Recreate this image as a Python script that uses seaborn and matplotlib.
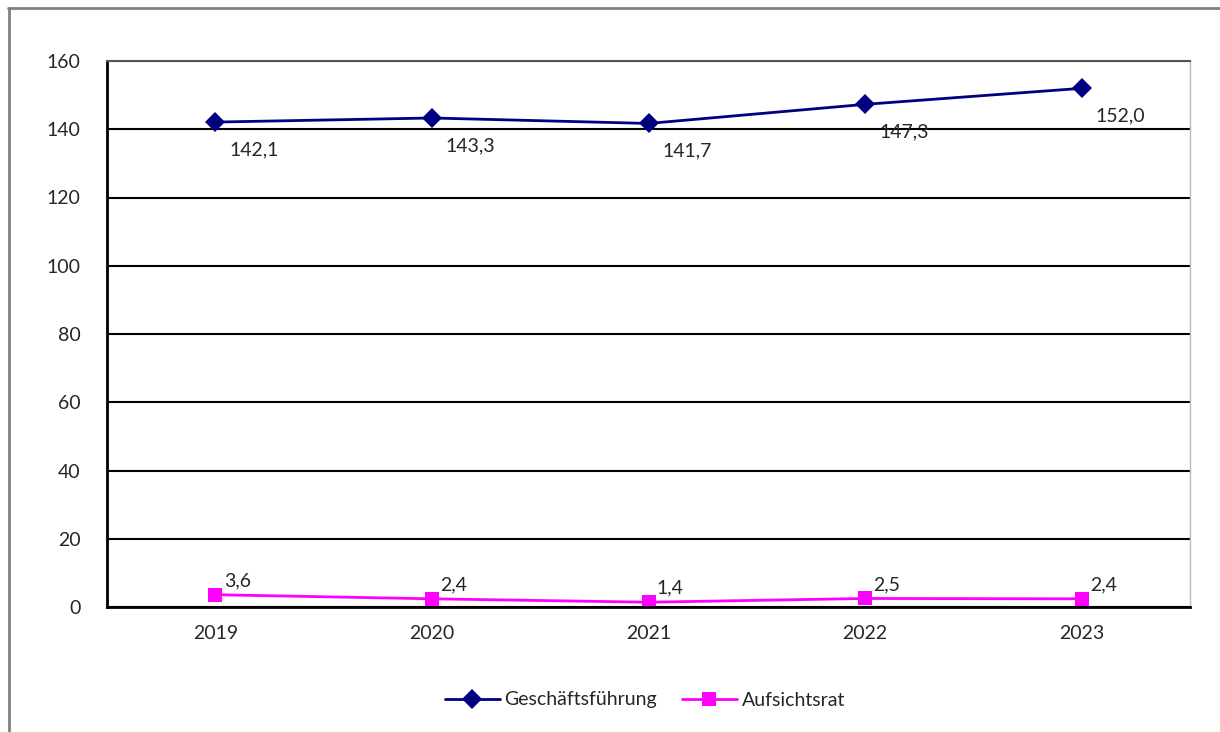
import pandas as pd
import matplotlib.pyplot as plt
import seaborn as sns
from matplotlib.lines import Line2D

years = ["2019", "2020", "2021", "2022", "2023"]
geschaeftsfuehrung = [142.1, 143.3, 141.7, 147.3, 152.0]
aufsichtsrat = [3.6, 2.4, 1.4, 2.5, 2.4]
series_names = ["Geschäftsführung", "Aufsichtsrat"]
colors = ["#000080", "#FF00FF"]

df = pd.DataFrame({
    "Jahr": years * 2,
    "pos": list(range(len(years))) * 2,
    "Wert": geschaeftsfuehrung + aufsichtsrat,
    "Serie": [series_names[0]] * len(years) + [series_names[1]] * len(years),
})

sns.set_style("white")
plt.rcParams["font.family"] = ["Lato", "DejaVu Sans"]
FS = 14

fig = plt.figure(figsize=(12.2, 7.32), dpi=100)
ax = fig.add_axes([107 / 1220, 1 - 607 / 732, 1083 / 1220, 546 / 732])

sns.lineplot(data=df, x="pos", y="Wert", hue="Serie", style="Serie",
             palette=dict(zip(series_names, colors)),
             markers={series_names[0]: "D", series_names[1]: "s"},
             dashes=False, markersize=10, linewidth=2,
             markeredgewidth=0, legend=False, ax=ax)

ax.set_xlim(-0.5, len(years) - 0.5)
ax.set_ylim(0, 160)
ax.set_yticks(range(0, 161, 20))
ax.yaxis.grid(True, color="black", linewidth=1.5)
ax.set_axisbelow(True)

# category labels in the middle, tick marks between
ax.set_xticks(range(len(years)))
ax.set_xticklabels(years)
ax.set_xticks([i - 0.5 for i in range(len(years) + 1)], minor=True)
ax.tick_params(axis="x", which="major", length=0, pad=13, labelsize=FS)
ax.tick_params(axis="x", which="minor", length=7, width=1.5, color="black", direction="out")
ax.tick_params(axis="y", length=7, width=1.5, color="black", direction="out", pad=12, labelsize=FS)
ax.set_xlabel("")
ax.set_ylabel("")

for side in ["left", "bottom"]:
    ax.spines[side].set_color("black")
    ax.spines[side].set_linewidth(2)
ax.spines["top"].set_color("#555555")
ax.spines["top"].set_linewidth(1.5)
ax.spines["right"].set_color("#BBBBBB")
ax.spines["right"].set_linewidth(1)

def fmt(v):
    return f"{v:.1f}".replace(".", ",")

for i, v in enumerate(geschaeftsfuehrung):
    ax.annotate(fmt(v), (i, v), xytext=(10, -20), textcoords="offset points",
                ha="left", va="center", fontsize=FS)
for i, v in enumerate(aufsichtsrat):
    ax.annotate(fmt(v), (i, v), xytext=(6, 10), textcoords="offset points",
                ha="left", va="center", fontsize=FS)

handles = [Line2D([0], [0], color=c, marker=m, markersize=10, linewidth=2, markeredgewidth=0)
           for c, m in zip(colors, ["D", "s"])]
fig.legend(handles, series_names, loc="center", bbox_to_anchor=(645 / 1220, 1 - 700 / 732),
           ncol=2, frameon=False, fontsize=FS, handlelength=2.8, handletextpad=0.25,
           columnspacing=1.3)

# outer frame (top and left edge only visible)
fig.add_artist(Line2D([8 / 1220, 1.0], [1 - 8 / 732, 1 - 8 / 732], color="#808080", linewidth=2,
                      transform=fig.transFigure))
fig.add_artist(Line2D([9 / 1220, 9 / 1220], [1 - 8 / 732, 0.0], color="#808080", linewidth=2,
                      transform=fig.transFigure))

fig.savefig("out.png", dpi=100)
